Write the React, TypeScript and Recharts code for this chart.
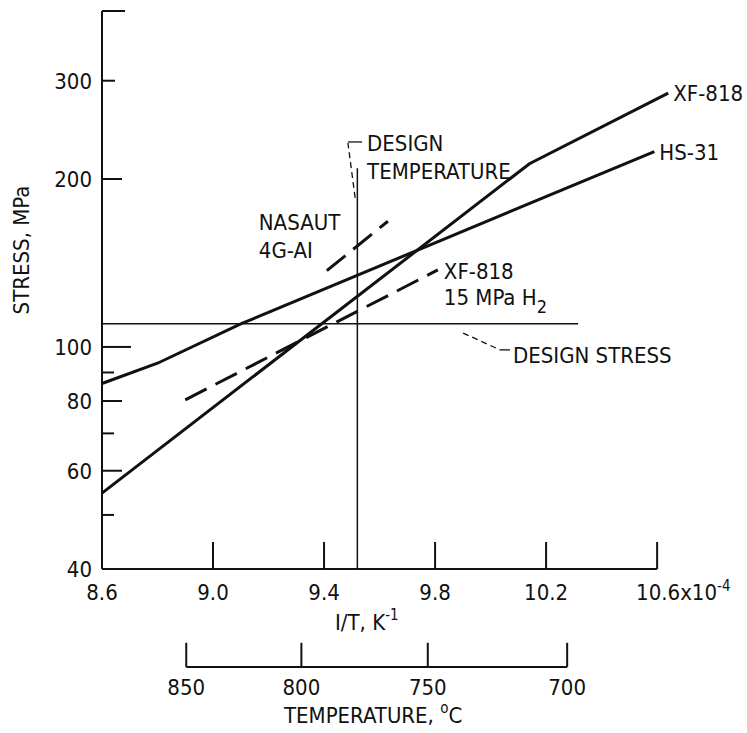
import React from 'react';
import { LineChart, Line, XAxis, YAxis, ReferenceLine, ReferenceDot } from 'recharts';

const FONT = "'Liberation Sans Narrow', 'DejaVu Sans Condensed', 'Arial Narrow', sans-serif";
const INK = '#111';

// 1/T axis in units of 10^-4 K^-1
const X_TICKS = [8.6, 9.0, 9.4, 9.8, 10.2, 10.6];
const Y_TICKS = [40, 50, 60, 70, 80, 90, 100, 200, 300, 400];
const Y_LABELED = [40, 60, 80, 100, 200, 300];
const TEMPS_C = [850, 800, 750, 700];
const TEMP_X = TEMPS_C.map((c) => 1e4 / (c + 273.15));

// stress (MPa) vs 1/T
const HS31_X = [8.6, 8.8, 9.1, 10.59];
const HS31_Y = [86, 93.5, 110, 224];
const XF818_X = [8.6, 10.14, 10.64];
const XF818_Y = [54.7, 213, 285];
const XF818_H2_X = [8.9, 9.81];
const XF818_H2_Y = [80.4, 137.4];
const NASAUT_X = [9.41, 9.63];
const NASAUT_Y = [137, 168];

const DESIGN_STRESS = 110;
const DESIGN_STRESS_END = 10.315;
const DESIGN_TEMP = 9.52;
const DESIGN_TEMP_TOP = 209;

// levels (below the stress range) where the temperature scale sits
const TEMP_SCALE_Y = 26.7;
const TEMP_TICK_TOP = 29.5;

const toPoints = (xs: number[], ys: number[]) => xs.map((x, i) => ({ x, y: ys[i] }));

const hs31 = toPoints(HS31_X, HS31_Y);
const xf818 = toPoints(XF818_X, XF818_Y);
const xf818h2 = toPoints(XF818_H2_X, XF818_H2_Y);
const nasaut = toPoints(NASAUT_X, NASAUT_Y);

const textStyle = { fontFamily: FONT, fontSize: 22, fill: INK };

const tickLen = (v: number) => {
  if (v === 100) return 29;
  if (v === 400) return 23;
  if (v === 300) return 13;
  if (Y_LABELED.includes(v)) return 20;
  return 12;
};

const YTick = (props: any) => {
  const { x, y, payload } = props;
  const v = payload.value;
  return (
    <g>
      {v !== 40 && <line x1={x} y1={y} x2={x + tickLen(v)} y2={y} stroke={INK} strokeWidth={2} />}
      {Y_LABELED.includes(v) && (
        <text x={x - 10} y={y + 8} textAnchor="end" style={textStyle}>
          {v}
        </text>
      )}
    </g>
  );
};

const XTick = (props: any) => {
  const { x, y, payload } = props;
  const v = payload.value;
  return (
    <g>
      {v !== 8.6 && <line x1={x} y1={y} x2={x} y2={y - 27} stroke={INK} strokeWidth={2} />}
      {v === 10.6 ? (
        <text x={x - 21} y={y + 31} textAnchor="start" style={textStyle}>
          10.6x10
          <tspan dy={-9} fontSize={15}>-4</tspan>
        </text>
      ) : (
        <text x={x} y={y + 31} textAnchor="middle" style={textStyle}>
          {v.toFixed(1)}
        </text>
      )}
    </g>
  );
};

type NoteLine = { text: React.ReactNode; dx: number; dy: number; anchor?: 'start' | 'middle' | 'end' };

const note = (key: string, x: number, y: number, lines: NoteLine[]) => (
  <ReferenceDot
    key={key}
    xAxisId="main"
    x={x}
    y={y}
    r={0}
    ifOverflow="visible"
    shape={(p: any) => (
      <g>
        {lines.map((l, i) => (
          <text key={i} x={p.cx + l.dx} y={p.cy + l.dy} textAnchor={l.anchor || 'start'} style={textStyle}>
            {l.text}
          </text>
        ))}
      </g>
    )}
  />
);

const segment = (
  key: string,
  a: [number, number],
  b: [number, number],
  width: number,
  dash?: string,
) => (
  <ReferenceLine
    key={key}
    xAxisId="main"
    segment={[
      { x: a[0], y: a[1] },
      { x: b[0], y: b[1] },
    ]}
    stroke={INK}
    strokeWidth={width}
    strokeDasharray={dash}
    ifOverflow="visible"
  />
);

export default function App() {
  return (
    <div style={{ position: 'absolute', left: 0, top: 0, background: '#fff' }}>
      <LineChart width={747} height={733} margin={{ top: 11, right: 76, bottom: 0, left: 0 }}>
        <XAxis
          xAxisId="main"
          type="number"
          dataKey="x"
          domain={[8.6, 10.65]}
          ticks={X_TICKS}
          interval={0}
          height={164}
          axisLine={false}
          tickLine={false}
          tickSize={0}
          tickMargin={0}
          tick={<XTick />}
          label={{
            content: (p: any) => (
              <g>
                <text x={p.viewBox.x + 233} y={p.viewBox.y + 61} style={textStyle}>
                  I/T, K
                  <tspan dy={-10} fontSize={15}>-1</tspan>
                </text>
                <text x={p.viewBox.x + 182} y={p.viewBox.y + 154} style={textStyle}>
                  TEMPERATURE,{' '}
                  <tspan dy={-10} fontSize={15}>o</tspan>
                  <tspan dy={10}>C</tspan>
                </text>
              </g>
            ),
          }}
        />
        <YAxis
          type="number"
          scale="log"
          domain={[40, 400]}
          ticks={Y_TICKS}
          interval={0}
          width={102}
          axisLine={{ stroke: INK, strokeWidth: 2 }}
          tickLine={false}
          tickSize={0}
          tickMargin={0}
          tick={<YTick />}
          label={{
            content: () => (
              <text x={29} y={250} transform="rotate(-90 29 250)" textAnchor="middle" style={textStyle}>
                STRESS, MPa
              </text>
            ),
          }}
        />

        {/* bottom axis line, 8.6 to 10.6 */}
        {segment('xaxis', [X_TICKS[0], 40], [X_TICKS[X_TICKS.length - 1], 40], 2)}

        {/* temperature scale */}
        {segment('tbase', [TEMP_X[0], TEMP_SCALE_Y], [TEMP_X[TEMP_X.length - 1], TEMP_SCALE_Y], 2)}
        {TEMP_X.map((t, i) => segment(`tt${i}`, [t, TEMP_SCALE_Y], [t, TEMP_TICK_TOP], 2))}
        {TEMP_X.map((t, i) =>
          note(`tl${i}`, t, TEMP_SCALE_Y, [{ text: String(TEMPS_C[i]), dx: 0, dy: 28, anchor: 'middle' }]),
        )}

        {/* design stress / design temperature */}
        {segment('dstress', [8.6, DESIGN_STRESS], [DESIGN_STRESS_END, DESIGN_STRESS], 1.5)}
        {segment('dtemp', [DESIGN_TEMP, 40], [DESIGN_TEMP, DESIGN_TEMP_TOP], 1.5)}

        <Line xAxisId="main" data={hs31} dataKey="y" stroke={INK} strokeWidth={3} dot={false} isAnimationActive={false} />
        <Line xAxisId="main" data={xf818} dataKey="y" stroke={INK} strokeWidth={3} dot={false} isAnimationActive={false} />
        <Line
          xAxisId="main"
          data={xf818h2}
          dataKey="y"
          stroke={INK}
          strokeWidth={3}
          strokeDasharray="24 10"
          dot={false}
          isAnimationActive={false}
        />
        <Line
          xAxisId="main"
          data={nasaut}
          dataKey="y"
          stroke={INK}
          strokeWidth={3}
          strokeDasharray="24 10"
          dot={false}
          isAnimationActive={false}
        />

        {/* leader lines */}
        {segment('dt1', [9.512, 185], [9.486, 232], 1.3, '6 4')}
        {segment('dt2', [9.486, 233], [9.537, 233], 1.3)}
        {segment('ds1', [9.901, 105.9], [10.034, 98.8], 1.3, '6 4')}
        {segment('ds2', [10.034, 98.8], [10.07, 98.8], 1.3)}

        {note('xf', XF818_X[2], XF818_Y[2], [{ text: 'XF-818', dx: 5, dy: 8 }])}
        {note('hs', HS31_X[3], HS31_Y[3], [{ text: 'HS-31', dx: 5, dy: 8 }])}
        {note('dt', 9.537, 233, [
          { text: 'DESIGN', dx: 5, dy: 9 },
          { text: 'TEMPERATURE', dx: 5, dy: 37 },
        ])}
        {note('na', NASAUT_X[0], NASAUT_Y[0], [
          { text: 'NASAUT', dx: -68, dy: -41 },
          { text: '4G-AI', dx: -68, dy: -13 },
        ])}
        {note('h2', XF818_H2_X[1], XF818_H2_Y[1], [
          { text: 'XF-818', dx: 6, dy: 9 },
          {
            text: (
              <>
                15 MPa H<tspan dy={8} fontSize={18}>2</tspan>
              </>
            ),
            dx: 6,
            dy: 35,
          },
        ])}
        {note('ds', 10.07, 98.8, [{ text: 'DESIGN STRESS', dx: 3, dy: 13 }])}
      </LineChart>
    </div>
  );
}
